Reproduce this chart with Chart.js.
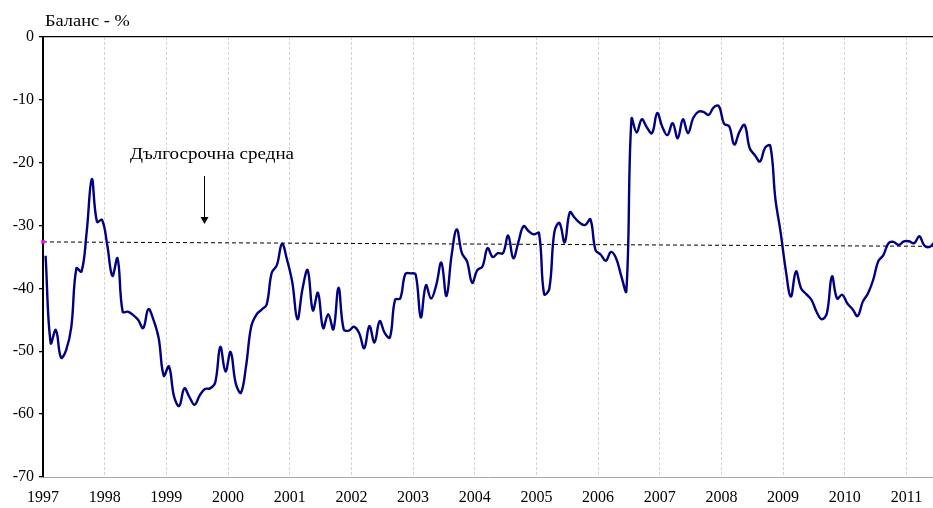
<!DOCTYPE html>
<html>
<head>
<meta charset="utf-8">
<script src="https://cdn.jsdelivr.net/npm/chart.js@4/dist/chart.umd.min.js"></script>
<style>
  html, body { margin: 0; padding: 0; background: #fff; }
  #wrap { width: 933px; height: 508px; position: relative; }
</style>
</head>
<body>
<div id="wrap"><canvas id="c" width="933" height="508"></canvas></div>
<script>
// ---- data ----
const startYear = 1997;
const yearTicks = [1997, 1998, 1999, 2000, 2001, 2002, 2003, 2004, 2005, 2006, 2007, 2008, 2009, 2010, 2011];
const yTicks = [0, -10, -20, -30, -40, -50, -60, -70];
// monthly balance, %, from Jan 1997
const balance = [
  -34.8, -48.7, -46.6, -51.0, -49.8, -46.2, -36.8, -37.3, -31.0, -22.6, -29.4, -29.1,
  -33.1, -38.0, -35.2, -43.7, -43.7, -44.2, -45.0, -46.3, -43.3, -45.0, -47.9, -53.9,
  -52.4, -57.2, -58.7, -55.9, -57.3, -58.5, -57.0, -56.0, -55.9, -55.0, -49.3, -53.2,
  -50.1, -55.1, -56.6, -52.4, -46.1, -44.2, -43.4, -42.6, -37.5, -36.3, -32.9, -35.5,
  -39.0, -44.9, -40.0, -37.1, -43.5, -40.7, -46.3, -44.1, -46.5, -39.9, -46.5, -46.7,
  -46.1, -47.1, -49.5, -46.0, -48.6, -45.2, -47.1, -47.8, -41.8, -41.6, -37.7, -37.6,
  -37.8, -44.6, -39.5, -41.6, -39.5, -35.9, -41.2, -34.7, -30.6, -34.4, -35.7, -39.1,
  -37.1, -36.5, -33.6, -35.0, -34.4, -34.4, -31.6, -35.2, -32.6, -30.1, -30.9, -31.4,
  -31.2, -40.9, -40.1, -31.0, -29.6, -32.7, -27.9, -28.8, -29.6, -29.9, -29.0, -33.9,
  -34.6, -35.6, -34.2, -35.2, -38.0, -40.4, -13.0, -15.2, -13.1, -14.4, -15.3, -12.1,
  -14.3, -15.6, -13.7, -16.1, -13.1, -15.3, -12.9, -11.9, -11.9, -12.4, -11.2, -11.0,
  -13.8, -14.2, -17.1, -15.1, -14.0, -17.7, -18.8, -19.8, -17.6, -17.3, -25.8, -31.0,
  -37.0, -41.3, -37.3, -40.0, -40.9, -41.8, -43.7, -44.9, -44.0, -38.1, -41.6, -41.0,
  -42.4, -43.3, -44.4, -42.1, -40.8, -38.7, -35.7, -34.7, -32.8, -32.6, -33.1, -32.5,
  -32.5, -32.8, -31.7, -33.2, -33.4, -32.6
];
// long-term average (start and end of the period)
const avgYears = [1997, 2011.43];
const avgValues = [-32.6, -33.3];
const avgLabel = 'Дългосрочна средна';
const yTitle = 'Баланс - %';

// ---- build ----
const balancePts = balance.map((v, i) => ({ x: startYear + (i + 0.5) / 12, y: v }));
const avgPts = avgYears.map((x, i) => ({ x: x, y: avgValues[i] }));

const FONT = '"Liberation Serif", "Times New Roman", serif';

function stretchedText(ctx, text, x, y, sx, align) {
  ctx.save();
  ctx.translate(x, y);
  ctx.scale(sx, 1);
  ctx.textAlign = align;
  ctx.fillText(text, 0, 0);
  ctx.restore();
}

const annot = {
  id: 'annot',
  afterDraw(chart) {
    const ctx = chart.ctx;
    const xs = chart.scales.x;
    ctx.save();
    ctx.fillStyle = '#000';
    ctx.textBaseline = 'alphabetic';
    ctx.font = '17px ' + FONT;
    stretchedText(ctx, yTitle, 45, 26, 1.08, 'left');
    stretchedText(ctx, avgLabel, xs.getPixelForValue(1999.74), 159, 1.12, 'center');
    // arrow
    const ax = Math.round(xs.getPixelForValue(1999.61)) + 0.5;
    const y1 = 176, y2 = 224;
    ctx.strokeStyle = '#000';
    ctx.lineWidth = 1;
    ctx.beginPath();
    ctx.moveTo(ax, y1);
    ctx.lineTo(ax, y2 - 5);
    ctx.stroke();
    ctx.beginPath();
    ctx.moveTo(ax - 4, y2 - 7);
    ctx.lineTo(ax + 4, y2 - 7);
    ctx.lineTo(ax, y2);
    ctx.closePath();
    ctx.fill();
    ctx.restore();
  }
};

new Chart(document.getElementById('c'), {
  type: 'line',
  data: {
    datasets: [
      {
        data: balancePts,
        borderColor: '#000080',
        borderWidth: 2.4,
        pointRadius: 0,
        tension: 0.4,
        fill: false,
        order: 0
      },
      {
        data: avgPts,
        borderColor: '#000',
        borderWidth: 1,
        borderDash: [4, 3],
        pointRadius: [2.5, 0],
        pointStyle: 'rect',
        pointBackgroundColor: '#ff00ff',
        pointBorderColor: '#ff00ff',
        pointBorderWidth: 0,
        tension: 0,
        clip: false,
        fill: false,
        order: 1
      }
    ]
  },
  options: {
    responsive: false,
    animation: false,
    events: [],
    layout: { autoPadding: false, padding: { top: 37, right: 0, left: 0, bottom: 0 } },
    plugins: { legend: { display: false }, tooltip: { enabled: false } },
    scales: {
      x: {
        type: 'linear',
        min: 1997,
        max: avgYears[1],
        afterBuildTicks: (s) => { s.ticks = yearTicks.map(v => ({ value: v })); },
        afterFit: (s) => { s.height = 31; s.paddingLeft = 0; s.paddingRight = 0; },
        grid: {
          color: (c) => (c.tick && c.tick.value === 1997) ? 'rgba(0,0,0,0)' : '#d4d4d4',
          lineWidth: 1,
          drawTicks: false
        },
        border: { display: true, color: '#a6a6a6', width: 1, dash: [3, 2] },
        ticks: {
          color: '#000',
          font: { family: FONT, size: 16 },
          padding: 11,
          maxRotation: 0,
          autoSkip: false,
          callback: (v) => String(v)
        }
      },
      y: {
        type: 'linear',
        min: -70,
        max: 0,
        afterBuildTicks: (s) => { s.ticks = yTicks.map(v => ({ value: v })); },
        afterFit: (s) => { s.width = 43; s.paddingTop = 0; s.paddingBottom = 0; },
        grid: {
          color: (c) => (c.tick && c.tick.value === 0) ? '#000' : 'rgba(0,0,0,0)',
          lineWidth: 1.3,
          tickColor: '#000',
          tickLength: 4,
          drawTicks: true
        },
        border: { display: true, color: '#000', width: 2 },
        ticks: {
          color: '#000',
          font: { family: FONT, size: 16 },
          padding: 5,
          callback: (v) => String(v)
        }
      }
    }
  },
  plugins: [annot]
});
</script>
</body>
</html>
